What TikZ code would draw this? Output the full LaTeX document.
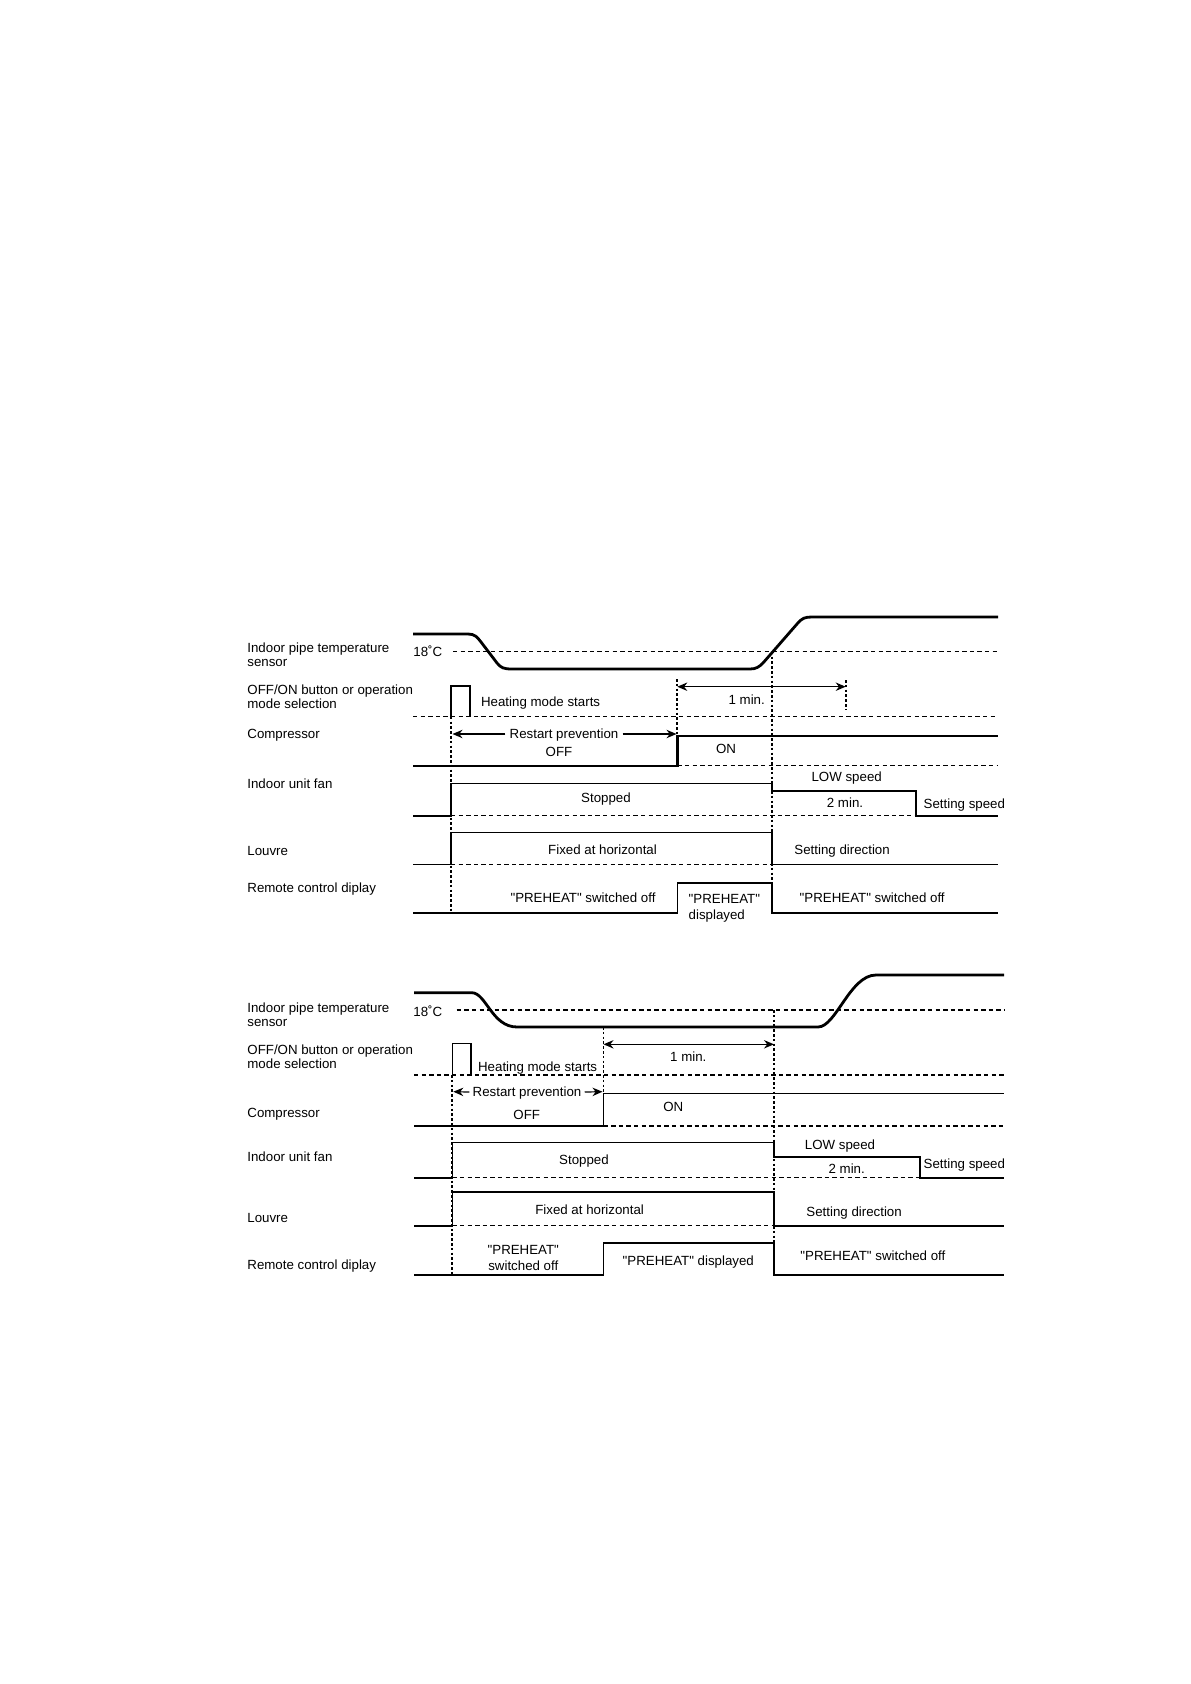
\documentclass[tikz,border=0pt]{standalone}
\usepackage{fontspec}
\setmainfont{Liberation Sans}[Ligatures=TeXOff]
\usetikzlibrary{arrows.meta}
\begin{document}
\begin{tikzpicture}[x=0.5pt,y=-0.5pt,
  lbl/.style={font=\fontsize{6.65}{7}\selectfont, inner sep=0pt, anchor=west, text height=4.8pt, text depth=0pt},
  txt/.style={font=\fontsize{6.65}{7}\selectfont, inner sep=0pt, text height=4.8pt, text depth=0pt},
  temp/.style={line width=1.4pt, line join=round},
  sigthick/.style={line width=1.2pt, line join=miter},
  sig/.style={line width=0.8pt, line join=miter},
  hdash/.style={line width=0.6pt, dash pattern=on 2.2pt off 1.6pt},
  vdot/.style={line width=0.9pt, dash pattern=on 1.3pt off 1.1pt},
  dimarrow/.style={line width=0.6pt, -{Stealth[length=5pt,width=4.2pt]}},
  dimboth/.style={line width=0.6pt, {Stealth[length=5pt,width=4.2pt]}-{Stealth[length=5pt,width=4.2pt]}}
]
\useasboundingbox (0,0) rectangle (1190,1684);
\fill[white] (0,0) rectangle (1190,1684);

% ================= TOP DIAGRAM =================
% labels
\node[lbl] (a1) at (247,648) {Indoor pipe temperature};
\node[lbl] (a2) at (247,662) {sensor};
\node[lbl] (a3) at (247,690) {OFF/ON button or operation};
\node[lbl] (a4) at (247,704) {mode selection};
\node[lbl] (a5) at (247,734) {Compressor};
\node[lbl] (a6) at (247,784) {Indoor unit fan};
\node[lbl] (a7) at (247,851) {Louvre};
\node[lbl] (a8) at (247,888) {Remote control diplay};
\node[lbl] (a9) at (413,652) {18˚C};

% coordinates
\coordinate (ts) at (451,716.7);
\coordinate (tc) at (677.3,736);
\coordinate (tt) at (771.7,651.7);

% temperature
\draw[temp] (413,634) -- (468,634) .. controls (475,634) and (477,637) .. (481,642)
  -- (497,663) .. controls (501,668) and (504,669) .. (512,669) -- (750,669)
  .. controls (756,669) and (759,667) .. (763,663) -- (797,624)
  .. controls (802,618) and (805,617) .. (812,617) -- (998,617);
\draw[hdash] (453,651.7) -- (998,651.7);

% button pulse
\draw[sig] (451,716.7) -- (451,685.7) -- (470,685.7) -- (470,716.7);
\draw[hdash] (413,716.7) -- (998,716.7);
\node[lbl] (hm1) at (480.7,702) {Heating mode starts};

% compressor
\draw[sigthick] (413,765.7) -- (677.3,765.7) -- (677.3,736) -- (998,736);
\draw[hdash] (677.3,765.7) -- (998,765.7);
\node[txt] (rp1) at (564,734) {Restart prevention};
\coordinate (rp1l) at (452.5,734);
\coordinate (rp1r) at (676.5,734);
\draw[dimarrow] (rp1.west) ++(-4,0) -- (rp1l);
\draw[dimarrow] (rp1.east) ++(4,0) -- (rp1r);
\node[txt] (off1) at (559,752) {OFF};
\node[txt] (on1) at (726,748.5) {ON};

% 1 min
\coordinate (m1l) at (677.3,686.7);
\coordinate (m1r) at (845.7,686.7);
\draw[dimboth] (m1l) -- (m1r);
\node[txt] (mn1) at (746.7,699.5) {1 min.};
\draw[vdot] (845.7,680) -- (845.7,709.3);

% fan
\draw[sig] (413,815.7) -- (451,815.7) -- (451,783.5) -- (771.7,783.5) -- (771.7,791)
  -- (916,791) -- (916,815.7) -- (998,815.7);
\draw[hdash] (451,815.7) -- (916,815.7);
\node[txt] (st1) at (606,797.5) {Stopped};
\node[txt] (lw1) at (846.7,777) {LOW speed};
\node[txt] (tm1) at (845,802.5) {2 min.};
\node[lbl] (ss1) at (923.3,804) {Setting speed};

% louvre
\draw[sig] (413,864.3) -- (451,864.3) -- (451,832.3) -- (771.7,832.3) -- (771.7,864.3) -- (998,864.3);
\draw[hdash] (451,864.3) -- (771.7,864.3);
\node[txt] (fx1) at (602.5,849.5) {Fixed at horizontal};
\node[lbl] (sd1) at (794,850) {Setting direction};

% remote
\draw[sig] (413,912.7) -- (677.3,912.7) -- (677.3,882.7) -- (771.7,882.7) -- (771.7,912.7) -- (998,912.7);
\node[txt] (po1) at (583,897.5) {"PREHEAT" switched off};
\node[lbl] (pd1) at (688.3,898.5) {"PREHEAT"};
\node[lbl] (pd2) at (688.3,915) {displayed};
\node[lbl] (po2) at (799.3,897.5) {"PREHEAT" switched off};

% verticals
\draw[vdot] (ts) -- (451,912.7);
\draw[vdot] (677.3,679) -- (tc);
\draw[vdot] (tt) -- (771.7,882.7);

% ================= BOTTOM DIAGRAM =================
\node[lbl] (b1) at (247,1007.5) {Indoor pipe temperature};
\node[lbl] (b2) at (247,1021.7) {sensor};
\node[lbl] (b3) at (247,1049.5) {OFF/ON button or operation};
\node[lbl] (b4) at (247,1064) {mode selection};
\node[lbl] (b5) at (247,1113) {Compressor};
\node[lbl] (b6) at (247,1157) {Indoor unit fan};
\node[lbl] (b7) at (247,1217.5) {Louvre};
\node[lbl] (b8) at (247,1265) {Remote control diplay};
\node[lbl] (b9) at (413,1012) {18˚C};

\coordinate (bs) at (452.3,1075);
\coordinate (bc) at (603.5,1093.5);
\coordinate (bt) at (774,1010);

% temperature
\draw[temp] (414,992.7) -- (472,992.7) .. controls (486,993) and (492,1027) .. (517,1027)
  -- (818,1027) .. controls (836,1027) and (850,975) .. (876,975) -- (1004,975);
\draw[hdash] (456.7,1010) -- (1004,1010);

% pulse
\draw[sig] (452.3,1075) -- (452.3,1043.3) -- (471,1043.3) -- (471,1075);
\draw[hdash] (414,1075) -- (1004,1075);
\node[lbl] (hm2) at (477.7,1066.5) {Heating mode starts};

% compressor
\draw[sig] (414,1126) -- (603.5,1126) -- (603.5,1093.5) -- (1004,1093.5);
\draw[hdash] (603.5,1126) -- (1004,1126);
\node[txt] (rp2) at (527,1092) {Restart prevention};
\coordinate (rp2l) at (453.3,1091.7);
\coordinate (rp2r) at (602.5,1091.7);
\draw[dimarrow] (rp2.west) ++(-3,0) -- (rp2l);
\draw[dimarrow] (rp2.east) ++(3,0) -- (rp2r);
\node[txt] (off2) at (526.7,1114.5) {OFF};
\node[txt] (on2) at (673.3,1107) {ON};

% 1 min
\coordinate (m2l) at (603.5,1044.3);
\coordinate (m2r) at (774,1044.3);
\draw[dimboth] (m2l) -- (m2r);
\node[txt] (mn2) at (688.3,1057) {1 min.};

% fan
\draw[sig] (414,1177.7) -- (452.3,1177.7) -- (452.3,1142.3) -- (774,1142.3) -- (774,1156.7)
  -- (920,1156.7) -- (920,1177.7) -- (1004,1177.7);
\draw[hdash] (452.3,1177.7) -- (920,1177.7);
\node[txt] (st2) at (584,1159.5) {Stopped};
\node[txt] (lw2) at (840,1144.5) {LOW speed};
\node[txt] (tm2) at (846.7,1168.5) {2 min.};
\node[lbl] (ss2) at (923.3,1164) {Setting speed};

% louvre
\draw[sig] (414,1225.7) -- (452.3,1225.7) -- (452.3,1191.7) -- (774,1191.7) -- (774,1225.7) -- (1004,1225.7);
\draw[hdash] (452.3,1225.7) -- (774,1225.7);
\node[txt] (fx2) at (589.6,1209.5) {Fixed at horizontal};
\node[lbl] (sd2) at (806,1212) {Setting direction};

% remote
\draw[sig] (414,1275) -- (603.5,1275) -- (603.5,1242.7) -- (774,1242.7) -- (774,1275) -- (1004,1275);
\node[txt] (pa2) at (523.3,1250) {"PREHEAT"};
\node[txt] (pb2) at (523.3,1266) {switched off};
\node[txt] (pd3) at (688.3,1261) {"PREHEAT" displayed};
\node[lbl] (po3) at (800,1256) {"PREHEAT" switched off};

% verticals
\draw[vdot] (bs) -- (452.3,1275);
\draw[vdot] (603.5,1027) -- (bc);
\draw[vdot] (bt) -- (774,1242.7);
\end{tikzpicture}
\end{document}
